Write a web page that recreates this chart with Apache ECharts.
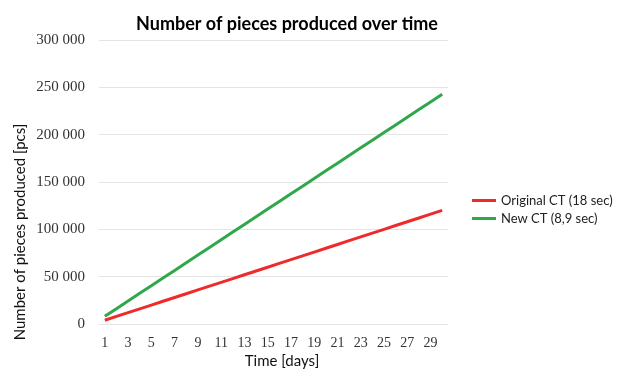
<!DOCTYPE html>
<html>
<head>
<meta charset="utf-8">
<script src="https://cdn.jsdelivr.net/npm/echarts@6/dist/echarts.min.js"></script>
<style>
  html, body { margin: 0; padding: 0; background: #fff; }
  #chart { width: 624px; height: 370px; }
</style>
</head>
<body>
<div id="chart"></div>
<script>
// Production days
const days = ['1','2','3','4','5','6','7','8','9','10','11','12','13','14','15',
              '16','17','18','19','20','21','22','23','24','25','26','27','28','29','30'];

// Cumulative pieces with the original cycle time (18 sec)
const originalCT = [4000, 8000, 12000, 16000, 20000, 24000, 28000, 32000, 36000, 40000,
                    44000, 48000, 52000, 56000, 60000, 64000, 68000, 72000, 76000, 80000,
                    84000, 88000, 92000, 96000, 100000, 104000, 108000, 112000, 116000, 120000];

// Cumulative pieces with the new cycle time (8,9 sec)
const newCT = [8090, 16180, 24270, 32360, 40450, 48540, 56630, 64720, 72810, 80900,
               88990, 97080, 105170, 113260, 121350, 129440, 137530, 145620, 153710, 161800,
               169890, 177980, 186070, 194160, 202250, 210340, 218430, 226520, 234610, 242700];

const seriesNames = ['Original CT (18 sec)', 'New CT (8,9 sec)'];
const yTicks = [0, 50000, 100000, 150000, 200000, 250000, 300000];

const chart = echarts.init(document.getElementById('chart'), null, { renderer: 'canvas' });

const fmt = v => String(v).replace(/\B(?=(\d{3})+(?!\d))/g, ' ');

chart.setOption({
  animation: false,
  backgroundColor: '#ffffff',
  title: {
    text: 'Number of pieces produced over time',
    left: 282,
    textAlign: 'center',
    top: 10,
    textStyle: { fontFamily: 'Lato', fontWeight: 'bold', fontSize: 18, color: '#000' }
  },
  legend: {
    orient: 'vertical',
    left: 467,
    top: 189,
    itemWidth: 24,
    itemHeight: 3,
    itemGap: 5,
    icon: 'rect',
    textStyle: { fontFamily: 'Lato', fontSize: 13, color: '#222' },
    data: seriesNames
  },
  grid: { left: 99, right: 176, top: 40, bottom: 46 },
  xAxis: {
    type: 'category',
    data: days,
    boundaryGap: true,
    axisLine: { show: true, lineStyle: { color: '#e4e4e4' } },
    axisTick: { show: false },
    axisLabel: {
      interval: 1,
      fontFamily: 'Liberation Serif',
      fontSize: 14,
      color: '#333',
      margin: 12
    }
  },
  yAxis: {
    type: 'value',
    min: yTicks[0],
    max: yTicks[yTicks.length - 1],
    interval: 50000,
    axisLine: { show: false },
    axisTick: { show: false },
    splitLine: { lineStyle: { color: '#e4e4e4' } },
    axisLabel: {
      fontFamily: 'Liberation Serif',
      fontSize: 15,
      color: '#333',
      margin: 14,
      formatter: fmt
    }
  },
  graphic: [
    {
      type: 'text',
      x: 20,
      y: 232,
      rotation: Math.PI / 2,
      style: {
        text: 'Number of pieces produced [pcs]',
        fontFamily: 'Lato',
        fontSize: 15,
        fill: '#111',
        align: 'center',
        verticalAlign: 'middle'
      }
    },
    {
      type: 'text',
      x: 282,
      y: 361,
      style: {
        text: 'Time [days]',
        fontFamily: 'Lato',
        fontSize: 15,
        fill: '#111',
        align: 'center',
        verticalAlign: 'middle'
      }
    }
  ],
  series: [
    {
      name: seriesNames[0],
      type: 'line',
      data: originalCT,
      showSymbol: false,
      symbol: 'none',
      lineStyle: { color: '#ee2a2a', width: 3 },
      itemStyle: { color: '#ee2a2a' }
    },
    {
      name: seriesNames[1],
      type: 'line',
      data: newCT,
      showSymbol: false,
      symbol: 'none',
      lineStyle: { color: '#2fa84b', width: 3 },
      itemStyle: { color: '#2fa84b' }
    }
  ]
});
</script>
</body>
</html>
